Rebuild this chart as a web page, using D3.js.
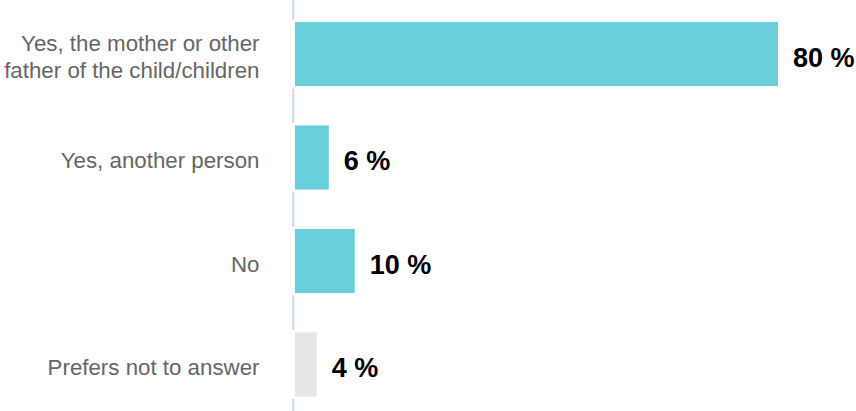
<!DOCTYPE html>
<html><head><meta charset="utf-8">
<script src="https://cdn.jsdelivr.net/npm/d3@7"></script>
<style>html,body{margin:0;padding:0;background:#fff;}svg{display:block;}</style>
</head><body>
<svg id="chart" width="856" height="411"></svg>
<script>
const categories = [
  ["Yes, the mother or other", "father of the child/children"],
  ["Yes, another person"],
  ["No"],
  ["Prefers not to answer"]
];
const values = [80, 5.6, 9.9, 3.6];
const barColors = ["#6bcfdb", "#6bcfdb", "#6bcfdb", "#e6e6e6"];

const svg = d3.select("#chart");
const x0 = 295;
const x = d3.scaleLinear().domain([0, 80]).range([x0, 778]);
const y = d3.scaleBand().domain(d3.range(categories.length)).range([2.25, 416.25]).paddingInner(0.38).paddingOuter(0.19);
const fmt = d3.format(".0f");

// axis line
svg.append("line").attr("x1", 293.2).attr("x2", 293.2).attr("y1", 0).attr("y2", 411)
  .attr("stroke", "#ccd6eb").attr("stroke-width", 2);

const g = svg.append("g");
// white padding behind bars (covers axis line)
g.selectAll("rect.pad").data(values).join("rect").attr("class", "pad")
  .attr("x", x0 - 3).attr("y", (d, i) => y(i) - 2.5)
  .attr("width", d => x(d) - x0 + 5).attr("height", y.bandwidth() + 5)
  .attr("fill", "#fff");
g.selectAll("rect.bar").data(values).join("rect").attr("class", "bar")
  .attr("x", x0).attr("y", (d, i) => y(i))
  .attr("width", d => x(d) - x0).attr("height", y.bandwidth())
  .attr("fill", (d, i) => barColors[i]);

// value labels
g.selectAll("text.val").data(values).join("text").attr("class", "val")
  .attr("x", d => x(d) + 15).attr("y", (d, i) => y(i) + y.bandwidth() / 2 + 3.5)
  .attr("dy", "0.35em")
  .attr("font-family", "Liberation Sans, Arial, sans-serif")
  .attr("font-weight", "bold").attr("font-size", 27).attr("fill", "#000")
  .text(d => fmt(d) + " %");

// category labels
const lh = 27;
const cat = g.selectAll("text.cat").data(categories).join("text").attr("class", "cat")
  .attr("text-anchor", "end")
  .attr("font-family", "Liberation Sans, Arial, sans-serif")
  .attr("font-size", 22.3).attr("fill", "#666666");
cat.each(function(lines, i) {
  const cy = y(i) + y.bandwidth() / 2 + 3;
  const start = cy - (lines.length - 1) * lh / 2;
  d3.select(this).selectAll("tspan").data(lines).join("tspan")
    .attr("x", 259.5).attr("y", (l, j) => start + j * lh).attr("dy", "0.35em").text(l => l);
});
</script>
</body></html>
